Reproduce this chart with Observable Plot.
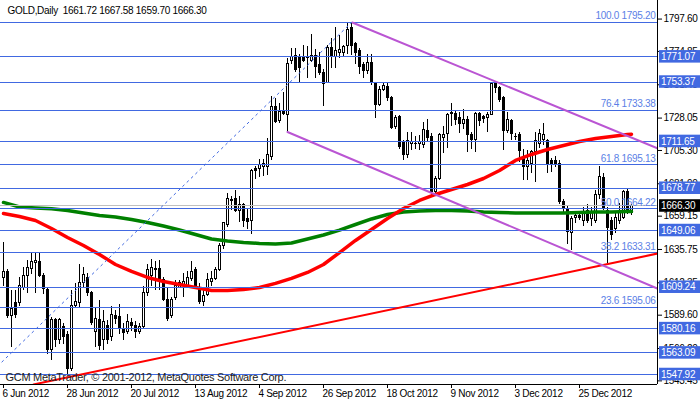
<!DOCTYPE html>
<html><head><meta charset="utf-8">
<script src="https://cdn.jsdelivr.net/npm/d3@7"></script>
<script src="https://cdn.jsdelivr.net/npm/@observablehq/plot@0.6"></script>
<style>
html,body{margin:0;padding:0;background:#fff;}
svg text{letter-spacing:-0.3px;}
</style></head><body><div id="chart"></div>
<script>
// ---- data ----
const titleText = "GOLD,Daily\u00a0\u00a01661.72 1667.58 1659.70 1666.30";
const copyrightText = "GCM MetaTrader, \u00a9 2001-2012, MetaQuotes Software Corp.";
const dateTickBars = [0, 16, 32, 48, 64, 80, 96, 112, 128, 144];
const dateLabels = ["6 Jun 2012", "28 Jun 2012", "20 Jul 2012", "13 Aug 2012", "4 Sep 2012",
  "26 Sep 2012", "18 Oct 2012", "9 Nov 2012", "3 Dec 2012", "25 Dec 2012"];
const yTicks = [1797.60, 1774.85, 1751.45, 1728.05, 1705.30, 1681.90, 1659.15, 1635.75, 1612.35, 1589.60, 1566.20, 1543.45];

const opens = [1616,1620,1589,1598,1598,1609,1617,1622,1626,1627,1617,1607,1565,1586,1572,1581,1576,1552,1596,1598,
  1612,1616,1605,1578,1586,1572,1582,1574,1589,1588,1580,1578,1584,1582,1578,1581,1605,1617,1622,1622,
  1614,1600,1589,1602,1609,1611,1610,1615,1621,1609,1599,1604,1613,1615,1621,1638,1653,1670,1671,1663,
  1667,1657,1656,1692,1692,1694,1694,1701,1736,1726,1732,1730,1768,1772,1771,1771,1770,1768,1772,1765,
  1760,1753,1777,1771,1774,1774,1779,1791,1780,1775,1765,1761,1767,1752,1737,1748,1750,1742,1722,1729,
  1711,1702,1710,1710,1710,1709,1719,1715,1676,1685,1714,1717,1731,1731,1728,1724,1727,1716,1713,1731,
  1729,1728,1730,1752,1749,1742,1719,1726,1715,1716,1701,1694,1696,1704,1710,1713,1712,1698,1698,1696,
  1669,1664,1647,1658,1659,1656,1663,1657,1656,1674,1686,1663,1656,1650,1656,1658,1676,1661.72];
const highs = [1641,1622,1607,1607,1616,1623,1628,1633,1633,1633,1619,1608,1588,1587,1587,1584,1578,1607,1612,1625,
  1623,1619,1606,1595,1600,1593,1586,1596,1593,1597,1584,1590,1587,1585,1584,1610,1625,1629,1627,1628,
  1616,1609,1602,1614,1614,1619,1620,1627,1623,1612,1608,1619,1620,1623,1640,1655,1675,1673,1677,1673,
  1668,1664,1692,1694,1699,1699,1714,1743,1742,1738,1746,1770,1777,1777,1773,1779,1778,1787,1776,1774,
  1762,1779,1784,1792,1786,1779,1795,1795.2,1781,1777,1767,1773,1773,1753,1750,1753,1752,1743,1730,1730,
  1712,1718,1718,1715,1716,1725,1727,1717,1687,1717,1722,1731,1738,1733,1732,1734,1729,1718,1732,1732,
  1730,1732,1753,1753,1750,1743,1732,1727,1717,1718,1706,1705,1705,1718,1720,1724,1713,1700,1701,1698,
  1671,1666,1659,1661,1661,1665,1667,1665,1677,1694,1689,1665,1658,1662,1668,1677,1678,1667.58];
const lows = [1610,1587,1567,1587,1596,1607,1605,1618,1605,1616,1604,1562,1558,1567,1569,1569,1547,1550,1595,1594,
  1609,1603,1582,1567,1565,1565,1569,1571,1583,1576,1572,1576,1578,1573,1576,1580,1603,1610,1607,1607,
  1599,1585,1587,1600,1608,1602,1609,1613,1609,1597,1596,1603,1610,1614,1620,1636,1651,1663,1662,1655,
  1651,1650,1646,1685,1686,1687,1688,1698,1724,1724,1730,1718,1766,1760,1752,1767,1756,1767,1756,1758,
  1736,1752,1763,1763,1770,1771,1773,1772,1766,1759,1756,1759,1751,1728,1736,1747,1740,1720,1720,1706,
  1698,1700,1705,1706,1705,1707,1711,1673,1674,1684,1703,1707,1722,1723,1717,1720,1704,1706,1704,1722,
  1724,1718,1730,1745,1739,1705,1717,1712,1712,1697,1684,1684,1689,1683,1707,1709,1689,1690,1693,1667,
  1660,1639,1635,1654,1656,1652,1654,1652,1654,1671,1663,1626,1642,1647,1653,1657,1660,1659.70];
const closes = [1620,1589,1594,1590,1610,1617,1623,1627,1628,1617,1608,1565,1586,1572,1586,1574,1552,1596,1599,1612,
  1618,1605,1584,1587,1568,1585,1572,1590,1587,1580,1577,1585,1582,1578,1581,1605,1621,1623,1621,1613,
  1600,1587,1600,1610,1612,1613,1616,1620,1610,1599,1603,1614,1615,1621,1638,1654,1671,1670.5,1663,1667,
  1656,1655,1691,1691,1695,1696,1702,1736,1725,1732,1731,1766,1771,1762,1763,1768,1770.5,1772,1764,1760,
  1752,1777,1771,1775,1776,1778,1790,1779,1774,1764,1761,1767,1753,1737,1748,1750.5,1742,1721,1728,1708,
  1702,1712,1711,1709.5,1711,1720,1714,1676,1685,1716,1716,1730,1731.5,1727,1724,1727,1716,1713,1731,1726,
  1727.5,1730,1752,1749,1741,1719,1727,1717,1714.5,1705,1694,1698,1704,1712,1717,1716,1696,1695,1695,1669,
  1664,1648,1657,1659,1658,1662,1656,1662,1674,1687,1665,1651,1646,1658,1663,1676,1663,1666.30];

// moving averages read every 4 bars
const maBars = [0,4,8,12,16,20,24,28,32,36,40,44,48,52,56,60,64,68,72,76,80,84,88,92,96,100,104,108,112,116,120,124,128,132,136,140,144,148,152,156,157];
const redMA = [1661.0,1658.9,1656.1,1650.5,1644.2,1638.5,1632.2,1625.2,1620.3,1616.1,1613.3,1611.2,1609.0,1606.9,1606.9,1607.6,1609.0,1611.9,1615.4,1619.6,
  1625.2,1633.6,1642.1,1649.8,1657.5,1664.5,1670.2,1674.4,1677.9,1681.4,1685.6,1691.2,1698.3,1702.5,1706.0,1708.8,1711.6,1713.7,1715.1,1716.5,1716.7];
const greenMA = [1668.8,1665.6,1664.9,1664.3,1663.1,1661.4,1659.6,1658.6,1656.8,1654.7,1652.2,1649.4,1646.3,1643.1,1641.7,1640.7,1640.0,1639.6,1640.3,1643.1,
  1645.9,1649.4,1653.3,1657.2,1660.3,1662.1,1662.8,1663.1,1663.1,1662.8,1662.1,1661.7,1661.4,1661.4,1661.4,1661.4,1661.7,1662.1,1662.1,1662.4,1662.4];

// horizontal levels
const levelLines = [1771.07, 1753.37, 1711.65, 1678.77, 1649.06, 1609.24, 1580.16, 1563.09, 1547.92];
const fibLevels = [100.0, 76.4, 61.8, 50.0, 38.2, 23.6];
const fibPrices = [1795.20, 1733.38, 1695.13, 1664.22, 1633.31, 1595.06];
const currentPrice = [1666.30];

// drawn objects (bar index, price)
const trendBars = [7.5, 163.5], trendPrices = [1540.9, 1632.9];
const upperBars = [87.2, 163.5], upperPrices = [1795.2, 1706.8];
const lowerBars = [71, 163.5], lowerPrices = [1718.3, 1608.3];
const fibLineBars = [-9, 87], fibLinePrices = [1533.24, 1795.2];

// ---- build ----
const bars = opens.map((o, i) => ({i, o, h: highs[i], l: lows[i], c: closes[i]}));
const pts = (xs, ys) => xs.map((x, i) => ({x, y: ys[i]}));
const BLUE = "#4169e1";

const chart = Plot.plot({
  width: 700, height: 402,
  marginLeft: 0, marginRight: 43, marginTop: 0, marginBottom: 18,
  style: {fontFamily: "'Liberation Sans', Arial, sans-serif", fontSize: "10px", background: "white", overflow: "visible", color: "black"},
  x: {domain: [-0.75, 163.5], axis: "bottom", ticks: dateTickBars, tickFormat: () => "", tickSize: 4, label: null},
  y: {domain: [1540.9, 1810.65], axis: "right", ticks: yTicks, tickFormat: d => d.toFixed(2), tickSize: 4, tickPadding: 2, label: null},
  marks: [
    // candles
    Plot.ruleX(bars, {x: "i", y1: "l", y2: "h", stroke: "black", strokeWidth: 1, shapeRendering: "crispEdges"}),
    Plot.rect(bars, {x1: d => d.i - 0.25, x2: d => d.i + 0.25, y1: "o", y2: "c",
      fill: d => d.c >= d.o ? "white" : "black", stroke: "black", strokeWidth: 1, shapeRendering: "crispEdges"}),
    // moving averages
    Plot.line(maBars, {x: d => d, y: (d, i) => greenMA[i], stroke: "#008000", strokeWidth: 3.5}),
    Plot.line(maBars, {x: d => d, y: (d, i) => redMA[i], stroke: "#ff0000", strokeWidth: 3.5}),
    // horizontal levels
    Plot.ruleY(levelLines.concat(fibPrices), {stroke: BLUE, strokeWidth: 1, shapeRendering: "crispEdges"}),
    Plot.ruleY(currentPrice, {stroke: "#c0c0c0", strokeWidth: 1, shapeRendering: "crispEdges"}),
    // trend / channel / fib lines
    Plot.line(pts(trendBars, trendPrices), {x: "x", y: "y", stroke: "#ff0000", strokeWidth: 2, clip: true}),
    Plot.line(pts(upperBars, upperPrices), {x: "x", y: "y", stroke: "#ba55d3", strokeWidth: 2, clip: true}),
    Plot.line(pts(lowerBars, lowerPrices), {x: "x", y: "y", stroke: "#ba55d3", strokeWidth: 2, clip: true}),
    Plot.line(pts(fibLineBars, fibLinePrices), {x: "x", y: "y", stroke: BLUE, strokeWidth: 1, strokeDasharray: "2,4", clip: true}),
    // fib labels
    Plot.text(fibPrices, {x: 163, y: d => d, text: (d, i) => fibLevels[i].toFixed(1) + " " + d.toFixed(2),
      textAnchor: "end", lineAnchor: "middle", dy: -6.5, fill: "#5b7fe6"}),
    // frame lines
    Plot.ruleX([163.5], {stroke: "black", shapeRendering: "crispEdges"}),
    Plot.ruleY([1540.9], {stroke: "black", shapeRendering: "crispEdges"}),
    // price boxes on the axis
    Plot.rect(levelLines, {x1: 164, x2: 175, y1: d => d - 4.4, y2: d => d + 4.4, fill: BLUE}),
    Plot.text(levelLines, {x: 164.4, y: d => d, text: d => d.toFixed(2), textAnchor: "start", lineAnchor: "middle", fill: "white"}),
    Plot.rect(currentPrice, {x1: 164, x2: 175, y1: d => d - 4.4, y2: d => d + 4.4, fill: "black"}),
    Plot.text(currentPrice, {x: 164.4, y: d => d, text: d => d.toFixed(2), textAnchor: "start", lineAnchor: "middle", fill: "white"}),
    // date labels
    Plot.text(dateTickBars, {x: d => d, text: (d, i) => dateLabels[i], frameAnchor: "bottom",
      textAnchor: "start", lineAnchor: "middle", dy: 9.5, dx: -1, fill: "black"}),
    // title & copyright
    Plot.text([titleText], {text: d => d, frameAnchor: "top-left", textAnchor: "start", lineAnchor: "middle", dx: 7, dy: 10, fill: "black"}),
    Plot.text([copyrightText], {text: d => d, frameAnchor: "bottom-left", textAnchor: "start", lineAnchor: "middle", dx: 5, dy: -7, fill: "#222", fontSize: 11})
  ]
});
document.getElementById("chart").appendChild(chart);
</script>
</body></html>
